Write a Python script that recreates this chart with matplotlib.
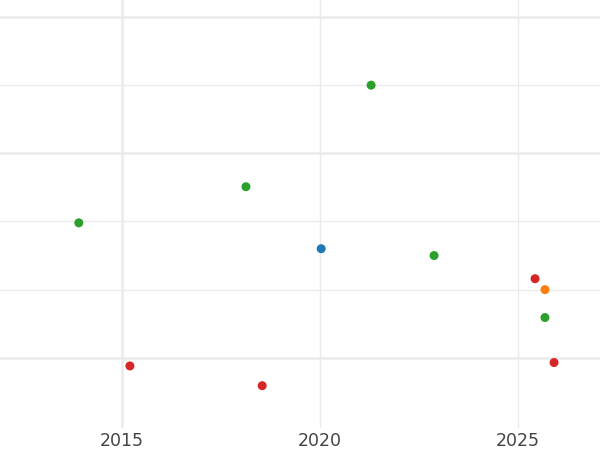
import matplotlib
matplotlib.use('Agg')
import matplotlib.pyplot as plt

# Points (y has no labels, arbitrary units)
years = [2013.91, 2015.20, 2018.13, 2018.54, 2020.03, 2021.29, 2022.88, 2025.43, 2025.68, 2025.68, 2025.91]
values = [1.98, -0.12, 2.51, -0.41, 1.60, 4.00, 1.50, 1.16, 1.00, 0.59, -0.07]
colors = ['#2ca02c', '#d62728', '#2ca02c', '#d62728', '#1f77b4', '#2ca02c',
          '#2ca02c', '#d62728', '#ff7f0e', '#2ca02c', '#d62728']

x_ticks = [2015, 2020, 2025]
y_major = [0, 3, 5]
y_minor = [1, 2, 4]

fig = plt.figure(figsize=(6, 4.5), dpi=100)
ax = fig.add_axes([0, 0.049, 1, 0.951])

ax.scatter(years, values, c=colors, s=42, zorder=3, linewidths=0)

ax.set_xlim(2011.92, 2027.07)
ax.set_ylim(-1.03, 5.25)
ax.set_xticks(x_ticks)
ax.set_xticklabels([str(t) for t in x_ticks])
ax.set_yticks(y_major)
ax.set_yticks(y_minor, minor=True)
ax.set_yticklabels([])

# thicker lines where the reference shows doubled grid lines
ax.grid(True, which='major', color='#ebebeb', linewidth=1.8)
ax.grid(True, which='minor', axis='y', color='#ebebeb', linewidth=1.0)
xgrid = ax.get_xgridlines()
for gl in xgrid[1:]:
    gl.set_linewidth(1.0)
ax.set_axisbelow(True)

for s in ax.spines.values():
    s.set_visible(False)
ax.tick_params(axis='both', which='both', length=0)
ax.tick_params(axis='x', labelsize=12.5, labelcolor='#444444', pad=3)

fig.savefig('out.png', dpi=100)
